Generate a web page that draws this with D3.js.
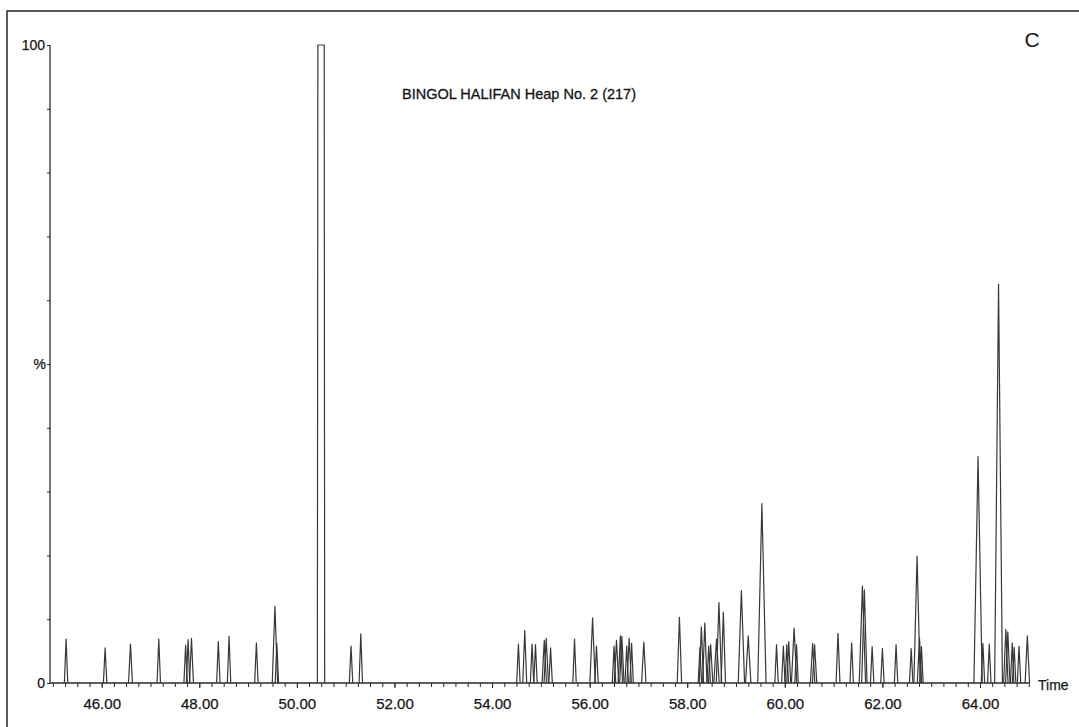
<!DOCTYPE html>
<html>
<head>
<meta charset="utf-8">
<script src="https://cdn.jsdelivr.net/npm/d3@7"></script>
<style>
  html, body { margin: 0; padding: 0; background: #fff; }
  svg { display: block; }
</style>
</head>
<body>
<svg id="chart" width="1079" height="727"></svg>
<script>
// ---- data ----
const titleText = "BINGOL HALIFAN Heap No. 2 (217)";
const panelLabel = "C";
const xLabel = "Time";
const yLabel = "%";
const xTickValues = [46, 48, 50, 52, 54, 56, 58, 60, 62, 64];
const yTickLabels = [0, 100];

// retention times (min) of peak apexes
const peakTimes = [
  45.27, 46.07, 46.59, 47.17, 47.72, 47.77, 47.84, 48.39, 48.61, 49.17, 49.55, 49.59,
  51.11, 51.31,
  54.54, 54.67, 54.82, 54.89, 55.07, 55.11, 55.20, 55.69, 56.06, 56.14,
  56.50, 56.55, 56.63, 56.66, 56.76, 56.81, 56.86, 57.11, 57.84,
  58.26, 58.29, 58.36, 58.44, 58.48, 58.60, 58.65, 58.74, 59.11, 59.25, 59.53,
  59.83, 59.97, 60.04, 60.08, 60.19, 60.24, 60.57, 60.61, 61.09,
  61.37, 61.59, 61.63, 61.79, 62.00, 62.28, 62.59, 62.71, 62.76, 62.80,
  63.96, 64.06, 64.19, 64.38, 64.53, 64.57, 64.66, 64.70, 64.80, 64.97
];
// relative intensity (%) of each peak
const peakHeights = [
  6.9, 5.5, 6.1, 6.9, 5.9, 6.8, 7.0, 6.5, 7.3, 6.3, 12.0, 6.2,
  5.8, 7.7,
  6.1, 8.2, 6.1, 6.0, 6.7, 7.0, 5.5, 6.9, 10.2, 5.8,
  5.8, 6.7, 7.4, 7.3, 5.8, 7.0, 6.2, 6.4, 10.3,
  5.6, 8.8, 9.4, 5.8, 6.0, 6.9, 12.6, 11.1, 14.5, 7.4, 28.1,
  6.0, 5.8, 6.0, 6.5, 8.6, 6.0, 6.2, 6.0, 7.8,
  6.3, 15.2, 14.6, 5.7, 5.4, 6.0, 5.4, 19.9, 7.0, 5.7,
  35.5, 6.2, 6.1, 62.5, 8.4, 8.0, 6.3, 5.6, 5.8, 7.4
];
// half base width (min) of each peak
const peakHalfWidths = [
  0.035, 0.035, 0.04, 0.035, 0.035, 0.035, 0.04, 0.035, 0.035, 0.035, 0.055, 0.035,
  0.035, 0.035,
  0.035, 0.04, 0.035, 0.035, 0.045, 0.045, 0.035, 0.035, 0.055, 0.035,
  0.035, 0.045, 0.045, 0.045, 0.035, 0.045, 0.035, 0.045, 0.045,
  0.035, 0.045, 0.045, 0.035, 0.045, 0.055, 0.055, 0.045, 0.065, 0.055, 0.085,
  0.035, 0.035, 0.035, 0.04, 0.055, 0.035, 0.045, 0.045, 0.04,
  0.035, 0.065, 0.055, 0.035, 0.035, 0.035, 0.035, 0.065, 0.045, 0.035,
  0.085, 0.035, 0.035, 0.08, 0.045, 0.045, 0.035, 0.035, 0.035, 0.045
];
// saturated main peak (flat top at 100 %)
const mainPeakStart = 50.42;
const mainPeakEnd = 50.57;
const mainPeakHeight = 100;

// ---- layout ----
const svg = d3.select("#chart");
const font = "'Liberation Sans', Arial, sans-serif";
const ink = "#2a2a2a";
const textInk = "#151515";

const x = d3.scaleLinear().domain([46, 64]).range([101.7, 980]);
const y = d3.scaleLinear().domain([0, 100]).range([683, 45]);

// outer frame (clipped at the bottom and right)
svg.append("rect")
  .attr("x", 7).attr("y", 11)
  .attr("width", 1100).attr("height", 800)
  .attr("fill", "none").attr("stroke", "#333").attr("stroke-width", 1.6);

// title + panel label
svg.append("text").attr("x", 402).attr("y", 99)
  .attr("font-family", font).attr("font-size", 14.5).attr("fill", textInk)
  .attr("stroke", textInk).attr("stroke-width", 0.3)
  .text(titleText);
svg.append("text").attr("x", 1032).attr("y", 47).attr("text-anchor", "middle")
  .attr("font-family", font).attr("font-size", 21).attr("fill", textInk)
  .text(panelLabel);

// x axis: minor ticks every 0.25, labels every 2
const xAxisG = svg.append("g").attr("transform", `translate(0,${y(0)})`);
const minorTicks = d3.range(45, 65.001, 0.25);
xAxisG.call(d3.axisBottom(x).tickValues(minorTicks).tickSize(4).tickFormat(""))
  .call(g => g.select(".domain").remove());
xAxisG.selectAll(".tick line").attr("stroke", ink).attr("stroke-width", 1);
svg.append("line").attr("x1", 50).attr("x2", x(65)).attr("y1", y(0)).attr("y2", y(0))
  .attr("stroke", ink).attr("stroke-width", 1.3);

const xLabG = svg.append("g").attr("transform", `translate(0,${y(0)})`);
xLabG.call(d3.axisBottom(x).tickValues(xTickValues).tickSize(5).tickPadding(10).tickFormat(d3.format(".2f")))
  .call(g => g.select(".domain").remove());
xLabG.selectAll(".tick line").attr("stroke", ink);
xLabG.selectAll(".tick text").attr("font-family", font).attr("font-size", 15)
  .attr("fill", textInk).attr("stroke", textInk).attr("stroke-width", 0.25);

svg.append("text").attr("x", 1038).attr("y", 690)
  .attr("font-family", font).attr("font-size", 14).attr("fill", textInk)
  .attr("stroke", textInk).attr("stroke-width", 0.25).text(xLabel);

// y axis
const yAxisG = svg.append("g").attr("transform", "translate(50,0)");
yAxisG.call(d3.axisLeft(y).tickValues(d3.range(0, 101, 10)).tickSize(3).tickFormat(""))
  .call(g => g.select(".domain").remove());
yAxisG.selectAll(".tick line").attr("stroke", ink);
svg.append("line").attr("x1", 50).attr("x2", 50).attr("y1", y(100)).attr("y2", y(0))
  .attr("stroke", ink).attr("stroke-width", 1.3);

const yLab = svg.append("g").attr("font-family", font).attr("font-size", 14)
  .attr("fill", textInk).attr("stroke", textInk).attr("stroke-width", 0.25);
yLab.selectAll("text.yl").data(yTickLabels).join("text")
  .attr("class", "yl").attr("x", 45).attr("y", d => y(d) + 5)
  .attr("text-anchor", "end").text(d => d);
yLab.append("text").attr("x", 46).attr("y", y(50) + 5).attr("text-anchor", "end").text(yLabel);

// ---- peaks ----
const line = d3.line().x(d => x(d[0])).y(d => y(d[1]));
const peaks = peakTimes.map((t, i) => [
  [t - peakHalfWidths[i], 0],
  [t, peakHeights[i]],
  [t + peakHalfWidths[i], 0]
]);
svg.append("g").selectAll("path").data(peaks).join("path")
  .attr("d", line).attr("fill", "none").attr("stroke", "#383838")
  .attr("stroke-width", 1.2).attr("stroke-linejoin", "round");

const mainPeak = [
  [mainPeakStart, 0],
  [mainPeakStart + 0.01, mainPeakHeight],
  [mainPeakEnd - 0.01, mainPeakHeight],
  [mainPeakEnd, 0]
];
svg.append("path").datum(mainPeak).attr("d", line)
  .attr("fill", "none").attr("stroke", "#383838").attr("stroke-width", 1.2)
  .attr("stroke-linejoin", "round");
</script>
</body>
</html>
